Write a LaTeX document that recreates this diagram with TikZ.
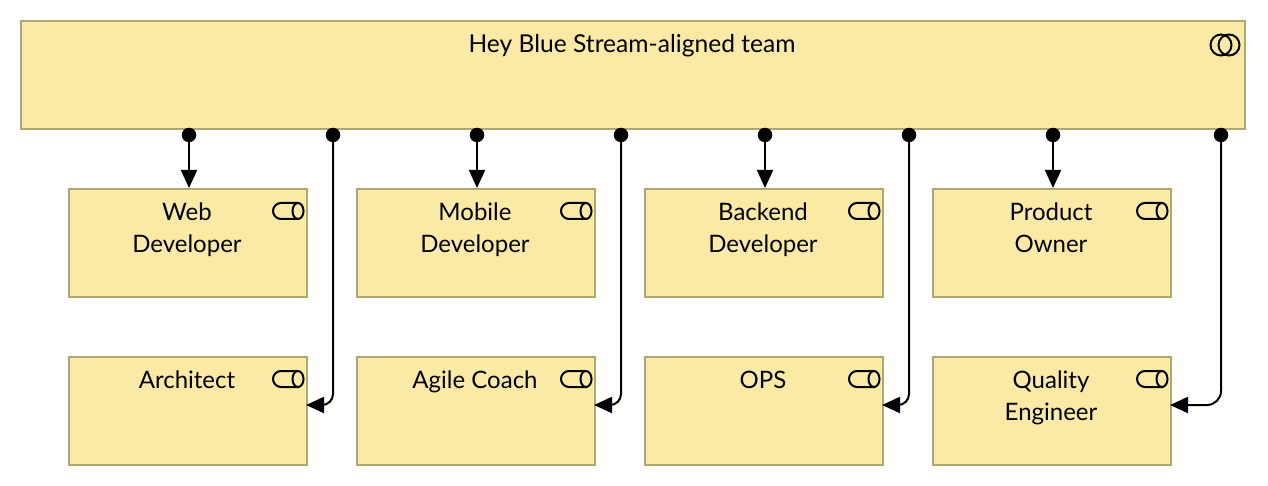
\documentclass[tikz,border=0pt]{standalone}
\usepackage{fontspec}
\setmainfont{Lato}
\usetikzlibrary{arrows.meta}
\definecolor{boxfill}{HTML}{FBEAA5}
\definecolor{boxline}{HTML}{B0A76E}
\tikzset{
  box/.style={draw=boxline,fill=boxfill,line width=2pt,minimum width=238pt,minimum height=108pt,inner sep=0pt,anchor=north west},
  lbl/.style={font=\fontsize{24}{32}\selectfont,align=center,anchor=base,inner sep=0pt},
  dotnode/.style={circle,fill=black,draw=none,minimum size=14.5pt,inner sep=0pt},
  link/.style={draw=black,line width=2pt,-{Triangle[length=18pt,width=16pt]}},
  bentlink/.style={link,rounded corners=11pt},
  icon/.style={draw=black,line width=2pt}
}
\newcommand{\roleicon}[2]{%
  \draw[icon] (#1+26,#2+8) -- (#1+9,#2+8) arc[start angle=90,end angle=270,radius=8] -- (#1+26,#2-8);
  \draw[icon] (#1+26,#2) ellipse[x radius=5.5,y radius=8];
}
\begin{document}
\begin{tikzpicture}[x=1pt,y=-1pt]
\useasboundingbox (0,0) rectangle (1268,486);
\node[box,minimum width=1224pt] (team) at (20,20) {};
\node[lbl,font=\fontsize{24.6}{32}\selectfont] (teamlabel) at (632,53) {Hey Blue Stream-aligned team};
\draw[icon] (1221,45) circle[radius=10.5];
\draw[icon] (1229,45) circle[radius=10.5];

\node[box] (web) at (68,188) {};
\node[box] (mobile) at (356,188) {};
\node[box] (backend) at (644,188) {};
\node[box] (product) at (932,188) {};
\node[box] (architect) at (68,356) {};
\node[box] (agile) at (356,356) {};
\node[box] (ops) at (644,356) {};
\node[box] (quality) at (932,356) {};

\node[lbl] (webl) at (187,252) {Web\\Developer};
\node[lbl] (mobilel) at (475,252) {Mobile\\Developer};
\node[lbl] (backendl) at (763,252) {Backend\\Developer};
\node[lbl] (productl) at (1051,252) {Product\\Owner};
\node[lbl] (architectl) at (187,388) {Architect};
\node[lbl] (agilel) at (475,388) {Agile Coach};
\node[lbl] (opsl) at (763,388) {OPS};
\node[lbl] (qualityl) at (1051,420) {Quality\\Engineer};

\foreach \x in {272,560,848,1136} {
  \roleicon{\x}{211}
  \roleicon{\x}{379}
}

\node[dotnode] (d1) at (189,135) {};
\node[dotnode] (d2) at (333,135) {};
\node[dotnode] (d3) at (477,135) {};
\node[dotnode] (d4) at (621,135) {};
\node[dotnode] (d5) at (765,135) {};
\node[dotnode] (d6) at (909,135) {};
\node[dotnode] (d7) at (1053,135) {};
\node[dotnode] (d8) at (1221,135) {};

\coordinate (e2) at (306,405);
\coordinate (e4) at (594,405);
\coordinate (e6) at (882,405);
\coordinate (e8) at (1170,405);

\draw[link] (d1.center) -- (d1 |- web.north);
\draw[link] (d3.center) -- (d3 |- mobile.north);
\draw[link] (d5.center) -- (d5 |- backend.north);
\draw[link] (d7.center) -- (d7 |- product.north);
\draw[bentlink] (d2.center) |- (e2);
\draw[bentlink] (d4.center) |- (e4);
\draw[bentlink] (d6.center) |- (e6);
\draw[bentlink,rounded corners=14pt] (d8.center) |- (e8);
\end{tikzpicture}
\end{document}
